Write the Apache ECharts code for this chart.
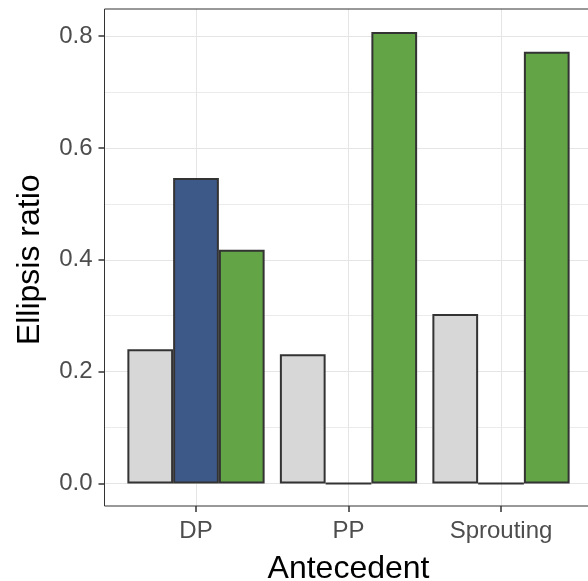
<!DOCTYPE html>
<html>
<head>
<meta charset="utf-8">
<script src="https://cdn.jsdelivr.net/npm/echarts@6/dist/echarts.min.js"></script>
<style>html,body{margin:0;padding:0;background:#fff}#c{width:588px;height:581px}</style>
</head>
<body>
<div id="c"></div>
<script>
const categories = ['DP', 'PP', 'Sprouting'];
const seriesGray = [0.240, 0.231, 0.303];
const seriesBlue = [0.546, 0, 0];
const seriesGreen = [0.418, 0.807, 0.772];
const yTicks = [0, 0.2, 0.4, 0.6, 0.8];

const FONT = 'Liberation Sans, Arial, Helvetica, sans-serif';
const yMin = yTicks[0], yMax = yTicks[yTicks.length - 1];
const yStep = yTicks[1] - yTicks[0];

const chart = echarts.init(document.getElementById('c'), null, {renderer: 'canvas'});
const barBorder = {borderColor: '#333333', borderWidth: 2};
const barCommon = {type: 'bar', xAxisIndex: 3, yAxisIndex: 3, clip: false,
                   barGap: '0%', barCategoryGap: '10%', z: 2};
const gridCommon = {containLabel: false, outerBoundsMode: 'none'};
const option = {
  animation: false,
  textStyle: {fontFamily: FONT},
  grid: [
    // panel frame
    Object.assign({left: 104.5, top: 9, width: 488, height: 497, show: true, borderColor: '#333333', borderWidth: 1, backgroundColor: 'transparent', z: 3}, gridCommon),
    // x axis (full panel height for vertical grid lines)
    Object.assign({left: 196, top: 9, width: 305, height: 497, show: false}, gridCommon),
    // y axis ticks / horizontal grid lines (0 .. 0.8)
    Object.assign({left: 104.5, top: 36, width: 488, height: 447.5, show: false}, gridCommon),
    // bars
    Object.assign({left: 196, top: 36, width: 305, height: 447.5, show: false}, gridCommon)
  ],
  xAxis: [
    {gridIndex: 0, type: 'value', show: false, min: 0, max: 1},
    {gridIndex: 1, type: 'category', data: categories, boundaryGap: false,
     axisLine: {show: false},
     axisTick: {show: true, length: 6, lineStyle: {color: '#333333', width: 1.5}},
     axisLabel: {color: '#4d4d4d', fontSize: 24, margin: 13, fontFamily: FONT},
     splitLine: {show: true, lineStyle: {color: '#e5e5e5', width: 1}},
     name: 'Antecedent', nameLocation: 'middle', nameGap: 47,
     nameTextStyle: {color: '#000', fontSize: 32, fontFamily: FONT}},
    {gridIndex: 2, type: 'value', show: false, min: 0, max: 1},
    {gridIndex: 3, type: 'category', data: categories, boundaryGap: false, show: false}
  ],
  yAxis: [
    {gridIndex: 0, type: 'value', show: false, min: 0, max: 1},
    {gridIndex: 1, type: 'value', show: false, min: 0, max: 1},
    {gridIndex: 2, type: 'value', min: yMin, max: yMax, interval: yStep,
     axisLine: {show: false},
     axisTick: {show: true, length: 6, lineStyle: {color: '#333333', width: 1.5}},
     axisLabel: {color: '#4d4d4d', fontSize: 24, margin: 12, fontFamily: FONT,
                 formatter: v => v.toFixed(1)},
     splitLine: {show: true, lineStyle: {color: '#e5e5e5', width: 1}},
     minorTick: {show: false, splitNumber: 2},
     minorSplitLine: {show: true, lineStyle: {color: '#ebebeb', width: 1}},
     name: 'Ellipsis ratio', nameLocation: 'middle', nameGap: 58,
     nameTextStyle: {color: '#000', fontSize: 32, fontFamily: FONT}},
    {gridIndex: 3, type: 'value', show: false, min: yMin, max: yMax}
  ],
  series: [
    Object.assign({data: seriesGray, itemStyle: Object.assign({color: '#d7d7d7'}, barBorder)}, barCommon),
    Object.assign({data: seriesBlue, itemStyle: Object.assign({color: '#3d5987'}, barBorder)}, barCommon),
    Object.assign({data: seriesGreen, itemStyle: Object.assign({color: '#62a446'}, barBorder)}, barCommon)
  ]
};
chart.setOption(option);
</script>
</body>
</html>
